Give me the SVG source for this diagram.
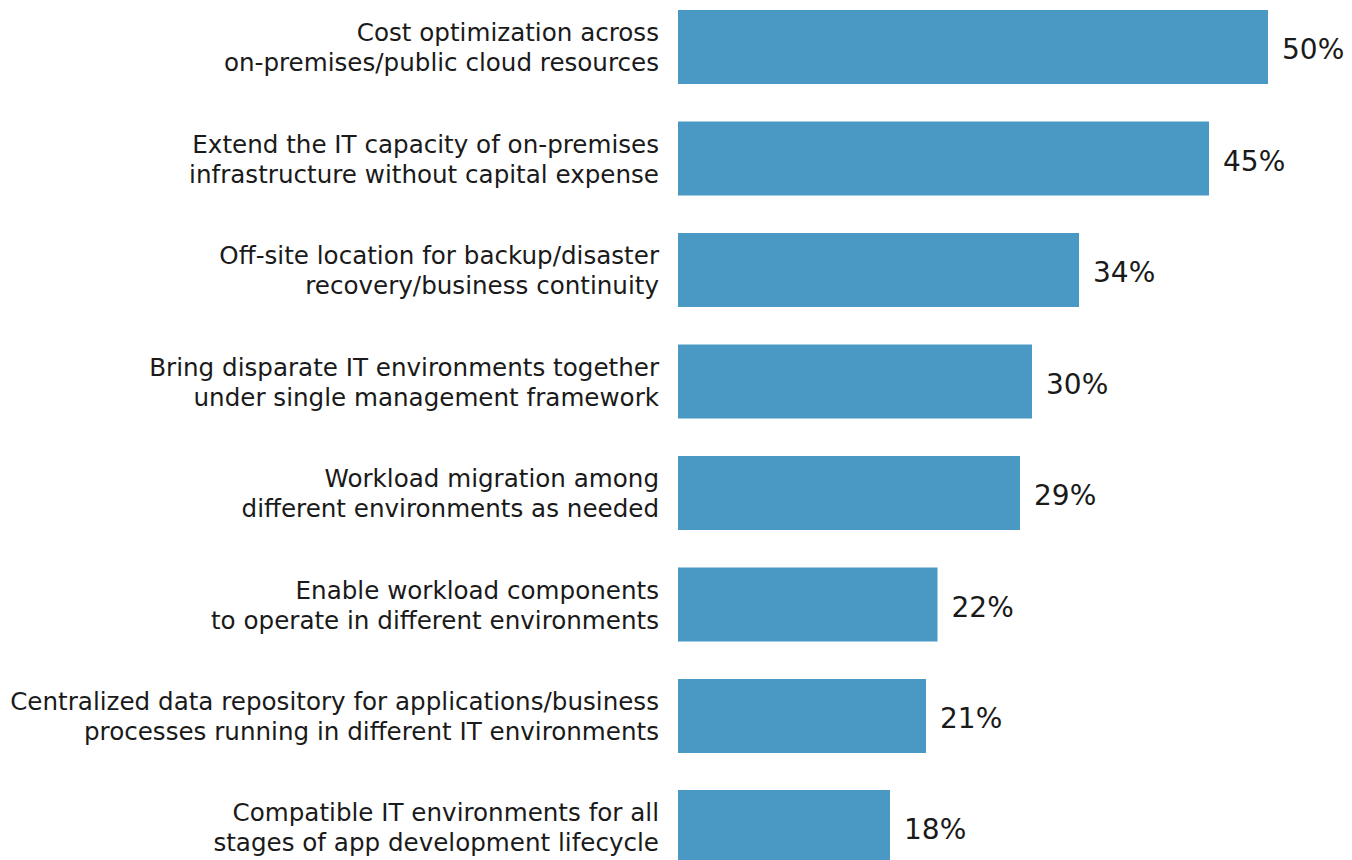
<svg xmlns="http://www.w3.org/2000/svg" width="1352" height="860" viewBox="0 0 1352 860">
<style>
.bar{fill:#4A99C4}
.lbl{font-family:"DejaVu Sans","Liberation Sans",sans-serif;font-size:24.6px;fill:#1a1a1a;text-anchor:end}
.pct{font-family:"DejaVu Sans","Liberation Sans",sans-serif;font-size:28px;fill:#1a1a1a}
</style>
<rect width="1352" height="860" fill="#ffffff"/>
<g id="row1">
<rect class="bar" x="678" y="10" width="590" height="74"/>
<text class="lbl" x="659" y="41">Cost optimization across</text>
<text class="lbl" x="659" y="71">on-premises/public cloud resources</text>
<text class="pct" x="1282" y="59">50%</text>
</g>
<g id="row2">
<rect class="bar" x="678" y="121.5" width="531" height="74"/>
<text class="lbl" x="659" y="152.5">Extend the IT capacity of on-premises</text>
<text class="lbl" x="659" y="182.5">infrastructure without capital expense</text>
<text class="pct" x="1223" y="170.5">45%</text>
</g>
<g id="row3">
<rect class="bar" x="678" y="233" width="401" height="74"/>
<text class="lbl" x="659" y="264">Off-site location for backup/disaster</text>
<text class="lbl" x="659" y="294">recovery/business continuity</text>
<text class="pct" x="1093" y="282">34%</text>
</g>
<g id="row4">
<rect class="bar" x="678" y="344.5" width="354" height="74"/>
<text class="lbl" x="659" y="375.5">Bring disparate IT environments together</text>
<text class="lbl" x="659" y="405.5">under single management framework</text>
<text class="pct" x="1046" y="393.5">30%</text>
</g>
<g id="row5">
<rect class="bar" x="678" y="456" width="342" height="74"/>
<text class="lbl" x="659" y="487">Workload migration among</text>
<text class="lbl" x="659" y="517">different environments as needed</text>
<text class="pct" x="1034" y="505">29%</text>
</g>
<g id="row6">
<rect class="bar" x="678" y="567.5" width="259.5" height="74"/>
<text class="lbl" x="659" y="598.5">Enable workload components</text>
<text class="lbl" x="659" y="628.5">to operate in different environments</text>
<text class="pct" x="951.5" y="616.5">22%</text>
</g>
<g id="row7">
<rect class="bar" x="678" y="679" width="248" height="74"/>
<text class="lbl" x="659" y="710">Centralized data repository for applications/business</text>
<text class="lbl" x="659" y="740">processes running in different IT environments</text>
<text class="pct" x="940" y="728">21%</text>
</g>
<g id="row8">
<rect class="bar" x="678" y="790" width="212" height="74"/>
<text class="lbl" x="659" y="821">Compatible IT environments for all</text>
<text class="lbl" x="659" y="851">stages of app development lifecycle</text>
<text class="pct" x="904" y="839">18%</text>
</g>
<g id="connectors"/>
</svg>
